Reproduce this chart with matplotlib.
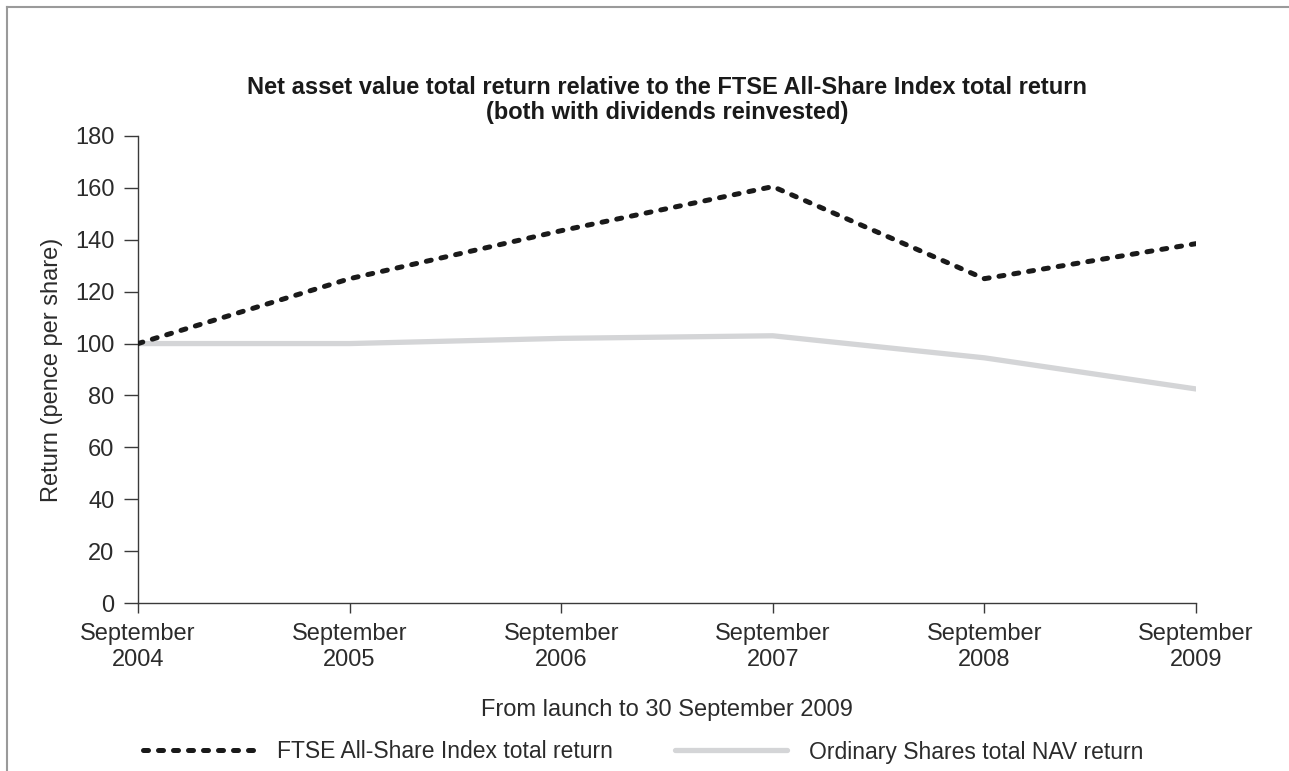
import matplotlib
matplotlib.use("Agg")
import matplotlib.pyplot as plt
from matplotlib.lines import Line2D

# ----------------------------------------------------------------- data
years = [2004, 2005, 2006, 2007, 2008, 2009]
tick_labels = [f"September\n{y}" for y in years]
ftse_return = [100, 125, 143.5, 160.5, 125, 138.5]
nav_return = [100, 100, 102, 103, 94.5, 82.5]

TITLE = ("Net asset value total return relative to the FTSE All-Share Index total return\n"
         "(both with dividends reinvested)")

plt.rcParams["font.family"] = ["Liberation Sans", "DejaVu Sans"]
TXT = "#2b2b2b"
AXC = "#3a3a3a"
FS = 17

W, H = 1289, 771
fig = plt.figure(figsize=(W / 100, H / 100), dpi=100)
ax = fig.add_axes([138 / W, 1 - 603 / H, (1196 - 138) / W, (603 - 136) / H])

ax.plot(years, ftse_return, color="#1a1a1a", lw=3.6, linestyle=(0, (1.0, 2.0)),
        dash_capstyle="round", solid_joinstyle="round",
        label="FTSE All-Share Index total return", zorder=3)
ax.plot(years, nav_return, color="#d4d5d7", lw=3.8, solid_capstyle="round",
        label="Ordinary Shares total NAV return", zorder=2)

ax.set_xlim(2004, 2009)
ax.set_ylim(0, 180)
ax.set_xticks(years)
ax.set_xticklabels(tick_labels, linespacing=1.2)
ax.set_yticks(range(0, 181, 20))

for side in ("top", "right"):
    ax.spines[side].set_visible(False)
for side in ("left", "bottom"):
    ax.spines[side].set_color(AXC)
    ax.spines[side].set_linewidth(1.0)
ax.tick_params(axis="both", direction="out", width=1.0, color=AXC,
               labelsize=FS, labelcolor=TXT)
ax.tick_params(axis="y", length=10, pad=7)
ax.tick_params(axis="x", length=7.5, pad=7)

ax.set_ylabel("Return (pence per share)", fontsize=FS, color=TXT)
ax.yaxis.set_label_coords((63 - 138) / (1196 - 138), 0.5)
ax.set_xlabel("From launch to 30 September 2009", fontsize=FS, color=TXT)
ax.xaxis.set_label_coords(0.5, (603 - 699) / (603 - 136))

fig.text((138 + 1196) / 2 / W, 1 - 100 / H, TITLE, ha="center", va="center",
         fontsize=FS, fontweight="bold", color="#1a1a1a", linespacing=1.1)

fig.legend(loc="center left", bbox_to_anchor=(143 / W, 1 - 752 / H), ncol=2,
           frameon=False, fontsize=16.5, handlelength=4.9, handletextpad=0.95,
           columnspacing=2.7, borderpad=0, borderaxespad=0, labelcolor=TXT)

# thin grey frame along top and left edges
fig.add_artist(Line2D([7 / W, 1.0], [1 - 7 / H, 1 - 7 / H], color="#9a9a9a", lw=1.5))
fig.add_artist(Line2D([7 / W, 7 / W], [0.0, 1 - 7 / H], color="#9a9a9a", lw=1.5))

fig.savefig("out.png", dpi=100)
